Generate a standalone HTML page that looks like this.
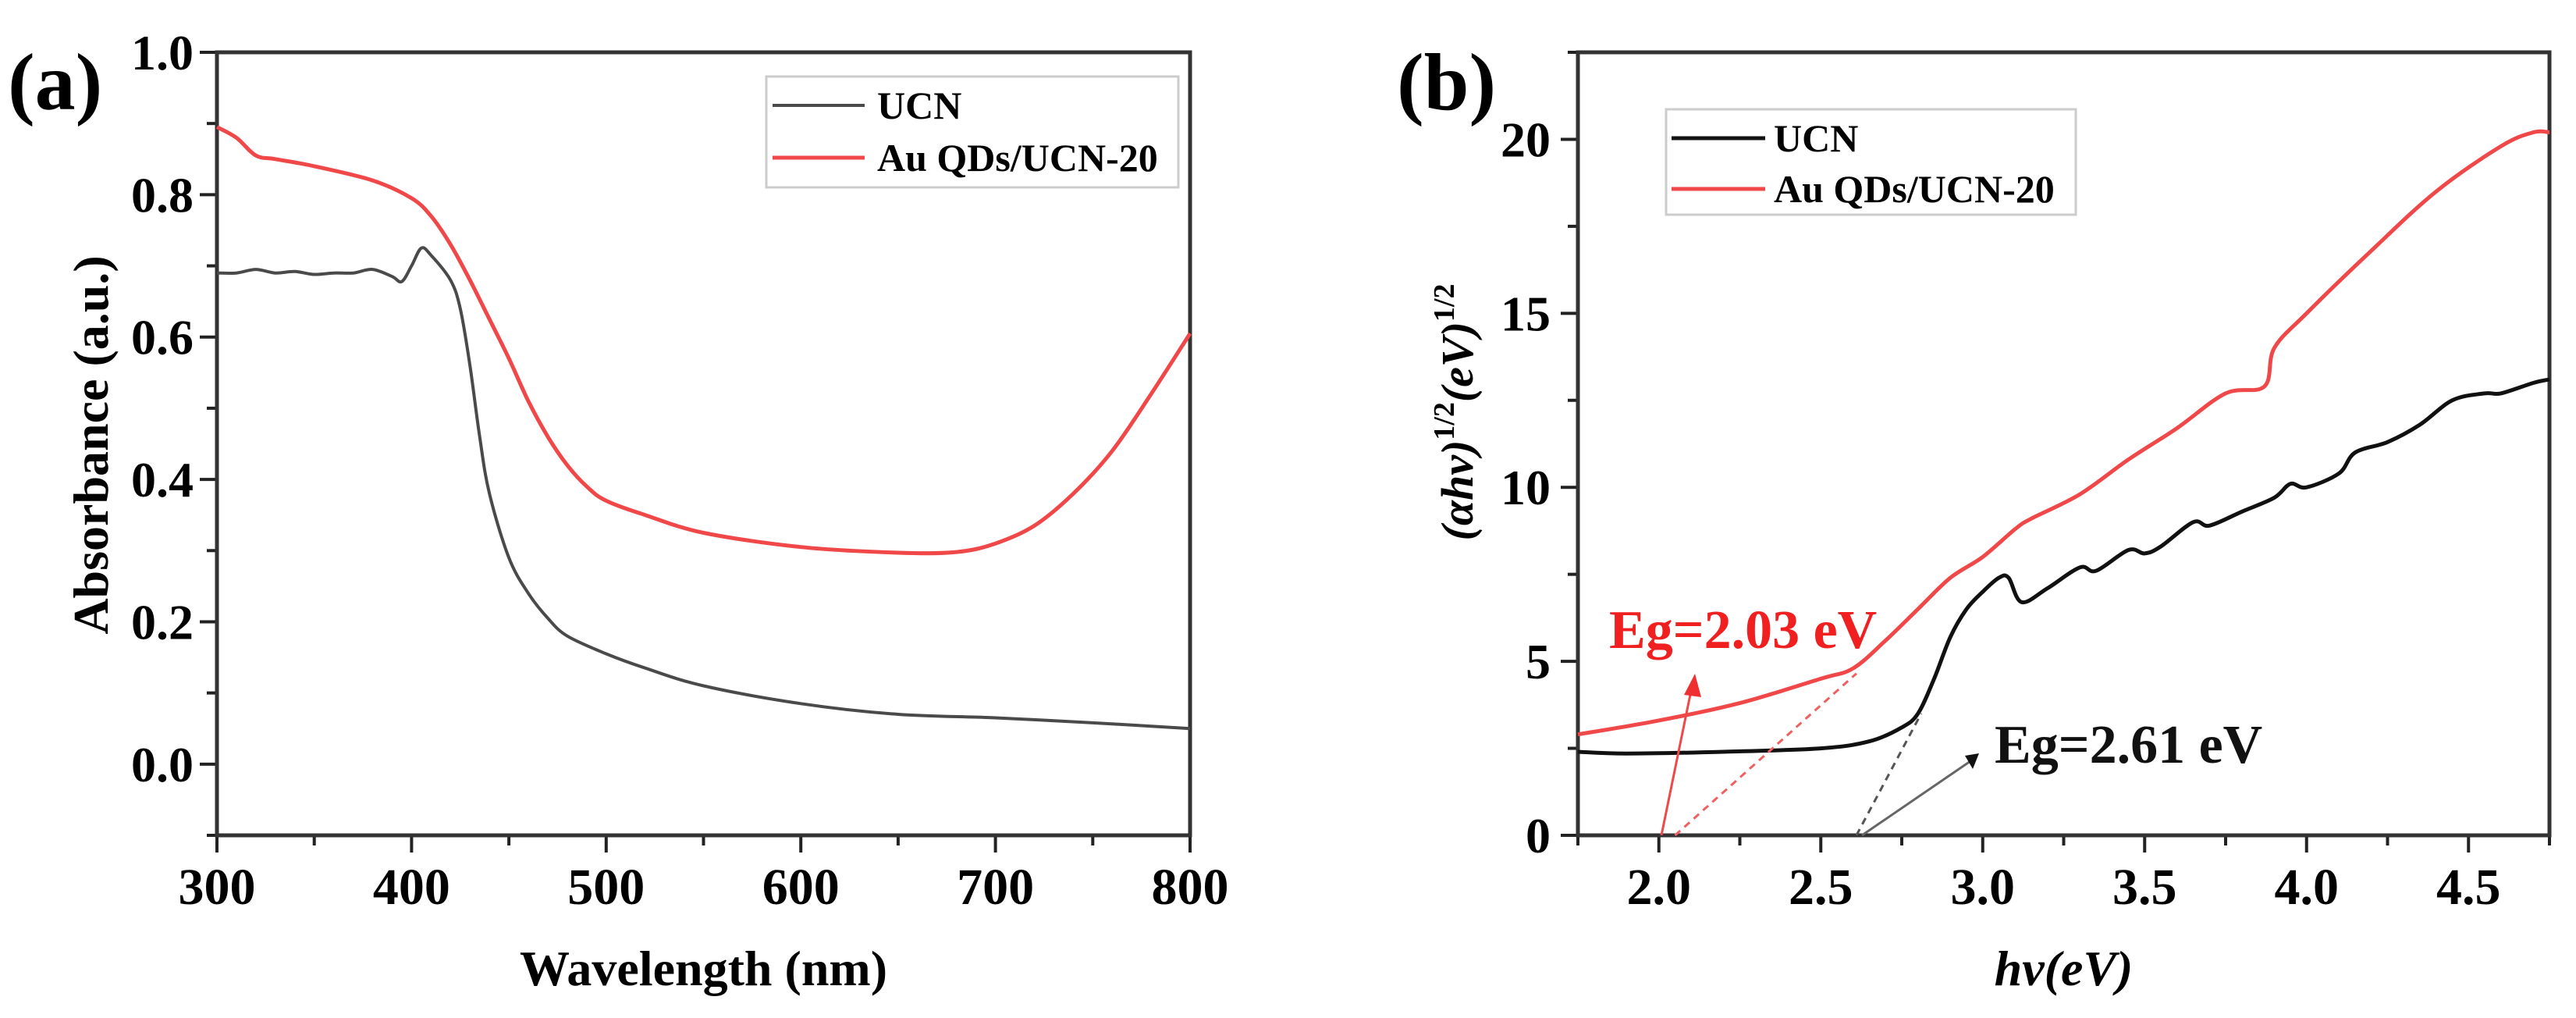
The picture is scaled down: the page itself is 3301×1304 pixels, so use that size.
<!DOCTYPE html>
<html><head><meta charset="utf-8"><style>
html,body{margin:0;padding:0;background:#fff}
svg{display:block}
text{font-family:"Liberation Serif",serif;font-weight:bold}
</style></head><body>
<svg id="fig" width="3301" height="1304" viewBox="0 0 3301 1304" xmlns="http://www.w3.org/2000/svg">
<g id="pa"></g>
<g id="pb"></g>
</svg>
<script>
// Panel (a) data
const aX = [300,310,320,330,340,350,360,370,380,390,395,400,405,410,420,425,430,435,440,450,460,470,480,500,520,550,600,650,700,750,800];
const aUCN = [0.69,0.69,0.695,0.69,0.692,0.688,0.69,0.69,0.695,0.685,0.678,0.70,0.725,0.715,0.68,0.64,0.56,0.46,0.38,0.29,0.24,0.205,0.18,0.155,0.135,0.11,0.085,0.07,0.065,0.058,0.05];
const aAuX = [300,310,320,330,350,380,400,410,420,430,440,450,460,470,480,490,500,520,550,600,650,680,700,720,740,760,780,800];
const aAu = [0.895,0.88,0.855,0.85,0.84,0.82,0.795,0.77,0.73,0.68,0.625,0.57,0.51,0.46,0.42,0.39,0.37,0.35,0.325,0.305,0.297,0.298,0.31,0.335,0.38,0.44,0.52,0.605];
const aXTicks = ['300','400','500','600','700','800'];
const aYTicks = ['0.0','0.2','0.4','0.6','0.8','1.0'];
// Panel (b) data
const bX = [1.75,1.9,2.2,2.5,2.65,2.75,2.8,2.85,2.9,2.95,3.0,3.05,3.08,3.12,3.2,3.3,3.35,3.45,3.5,3.55,3.65,3.7,3.8,3.9,3.95,4.0,4.1,4.15,4.25,4.35,4.45,4.55,4.6,4.7,4.75];
const bUCN = [2.4,2.35,2.4,2.5,2.7,3.1,3.5,4.5,5.7,6.5,7.0,7.4,7.4,6.7,7.1,7.7,7.6,8.2,8.1,8.3,9.0,8.9,9.3,9.7,10.1,10.0,10.4,11.0,11.3,11.8,12.5,12.7,12.7,13.0,13.1];
const bAuX = [1.75,2.0,2.25,2.5,2.6,2.7,2.8,2.9,3.0,3.1,3.15,3.3,3.45,3.6,3.75,3.87,3.9,4.0,4.2,4.4,4.6,4.7,4.75];
const bAu = [2.9,3.3,3.8,4.5,4.8,5.6,6.5,7.4,8.0,8.8,9.1,9.8,10.8,11.7,12.7,12.9,14.0,15.0,16.8,18.5,19.8,20.2,20.2];
const bXTicks = ['2.0','2.5','3.0','3.5','4.0','4.5'];
const bYTicks = ['0','5','10','15','20'];
const egAu = 2.03, egUCN = 2.61;

const NS='http://www.w3.org/2000/svg';
function mk(parent,tag,attrs,txt){const e=document.createElementNS(NS,tag);for(const k in attrs)e.setAttribute(k,attrs[k]);if(txt!==undefined)e.textContent=txt;parent.appendChild(e);return e;}
function smooth(xs,ys,sx,sy){
  const P=xs.map((x,i)=>[sx(x),sy(ys[i])]);
  let d='M'+P[0][0].toFixed(1)+','+P[0][1].toFixed(1);
  for(let i=0;i<P.length-1;i++){
    const p0=P[Math.max(0,i-1)],p1=P[i],p2=P[i+1],p3=P[Math.min(P.length-1,i+2)];
    const c1=[p1[0]+(p2[0]-p0[0])/6,p1[1]+(p2[1]-p0[1])/6];
    const c2=[p2[0]-(p3[0]-p1[0])/6,p2[1]-(p3[1]-p1[1])/6];
    d+=' C'+c1[0].toFixed(1)+','+c1[1].toFixed(1)+' '+c2[0].toFixed(1)+','+c2[1].toFixed(1)+' '+p2[0].toFixed(1)+','+p2[1].toFixed(1);
  }
  return d;
}

// ---------- Panel A ----------
const A=document.getElementById('pa');
const aL=278,aR=1525,aT=67,aB=1070;
const ax=v=>aL+(v-300)/(500)*(aR-aL);
const ay=v=>aB-(v+0.1)/1.1*(aB-aT);
let t;
t=mk(A,'text',{x:10,y:140,'font-size':104});t.textContent='(a)';

for(let v=300;v<=800;v+=50){const maj=v%100===0;const l=mk(A,'line',{x1:ax(v),x2:ax(v),y1:aB,y2:aB+(maj?22:13),stroke:'#222','stroke-width':4});
}
aXTicks.forEach(s=>{const e=mk(A,'text',{x:ax(+s),y:1158,'font-size':66,'text-anchor':'middle'},s);
});
for(let k=-1;k<=10;k++){const v=k/10;const maj=k>=0&&k%2===0;const l=mk(A,'line',{x1:aL,x2:aL-(maj?22:13),y1:ay(v),y2:ay(v),stroke:'#222','stroke-width':4});
}
aYTicks.forEach(s=>{const e=mk(A,'text',{x:248,y:ay(+s)+22,'font-size':64,'text-anchor':'end'},s);
});
let r=mk(A,'rect',{x:aL,y:aT,width:aR-aL,height:aB-aT,fill:'none',stroke:'#333','stroke-width':5});

t=mk(A,'text',{x:(aL+aR)/2,y:1262,'font-size':64,'text-anchor':'middle'},'Wavelength (nm)');

t=mk(A,'text',{x:0,y:0,'font-size':64,'text-anchor':'middle',transform:'translate(138,570) rotate(-90)'},'Absorbance (a.u.)');

let p=mk(A,'path',{d:smooth(aX,aUCN,ax,ay),fill:'none',stroke:'#4a4a4a','stroke-width':4,'stroke-linejoin':'round'});

p=mk(A,'path',{d:smooth(aAuX,aAu,ax,ay),fill:'none',stroke:'#f04848','stroke-width':5,'stroke-linejoin':'round'});

r=mk(A,'rect',{x:982,y:98,width:528,height:142,fill:'#fff',stroke:'#ccc','stroke-width':3});

mk(A,'line',{x1:990,x2:1108,y1:135,y2:135,stroke:'#4a4a4a','stroke-width':4});
t=mk(A,'text',{x:1124,y:152,'font-size':50},'UCN');
mk(A,'line',{x1:990,x2:1108,y1:202,y2:202,stroke:'#f04848','stroke-width':5});
t=mk(A,'text',{x:1124,y:219,'font-size':50},'Au QDs/UCN-20');

// ---------- Panel B ----------
const B=document.getElementById('pb');
const bL=2022,bR=3267,bT=67,bB=1070;
const bx=v=>bL+(v-1.75)/3.0*(bR-bL);
const by=v=>bB-v/22.5*(bB-bT);
t=mk(B,'text',{x:1790,y:140,'font-size':104},'(b)');
for(let k=0;k<=12;k++){const v=1.75+k*0.25;const maj=k%2===1;const l=mk(B,'line',{x1:bx(v),x2:bx(v),y1:bB,y2:bB+(maj?22:13),stroke:'#222','stroke-width':4});
}
bXTicks.forEach(s=>{const e=mk(B,'text',{x:bx(+s),y:1158,'font-size':66,'text-anchor':'middle'},s);
});
for(let k=0;k<=9;k++){const v=k*2.5;const maj=k%2===0;const l=mk(B,'line',{x1:bL,x2:bL-(maj?22:13),y1:by(v),y2:by(v),stroke:'#222','stroke-width':4});
}
bYTicks.forEach(s=>{const e=mk(B,'text',{x:1987,y:by(+s)+22,'font-size':64,'text-anchor':'end'},s);
});
r=mk(B,'rect',{x:bL,y:bT,width:bR-bL,height:bB-bT,fill:'none',stroke:'#333','stroke-width':5});

t=mk(B,'text',{x:(bL+bR)/2,y:1262,'font-size':64,'text-anchor':'middle','font-style':'italic'});
t.innerHTML='hv(eV)';

t=mk(B,'text',{x:0,y:0,'font-size':58,'text-anchor':'middle','font-style':'italic',transform:'translate(1887,528) rotate(-90)'});
t.innerHTML='(αhv)<tspan font-size="38" dy="-24" font-style="normal">1/2</tspan><tspan dy="24">(eV)</tspan><tspan font-size="38" dy="-24" font-style="normal">1/2</tspan>';

p=mk(B,'path',{d:smooth(bX,bUCN,bx,by),fill:'none',stroke:'#111','stroke-width':5,'stroke-linejoin':'round'});

p=mk(B,'path',{d:smooth(bAuX,bAu,bx,by),fill:'none',stroke:'#f04848','stroke-width':5,'stroke-linejoin':'round'});

let d=mk(B,'line',{x1:bx(egAu+0.02),y1:by(0),x2:bx(2.61),y2:by(4.65),stroke:'#f06060','stroke-width':3,'stroke-dasharray':'9,7'});

d=mk(B,'line',{x1:bx(egUCN),y1:by(0),x2:bx(2.81),y2:by(3.5),stroke:'#555','stroke-width':3,'stroke-dasharray':'9,7'});

d=mk(B,'line',{x1:2129,y1:1070,x2:2168,y2:880,stroke:'#f04848','stroke-width':3});

mk(B,'polygon',{points:'2172,863 2158,890 2180,893',fill:'#f03030'});
d=mk(B,'line',{x1:2386,y1:1070,x2:2525,y2:975,stroke:'#666','stroke-width':3});

mk(B,'polygon',{points:'2536,965 2518,968 2528,985',fill:'#111'});
t=mk(B,'text',{x:2062,y:830,'font-size':70,fill:'#f02020'},'Eg=2.03 eV');

t=mk(B,'text',{x:2556,y:977,'font-size':70,fill:'#111'},'Eg=2.61 eV');

r=mk(B,'rect',{x:2135,y:140,width:525,height:135,fill:'#fff',stroke:'#ccc','stroke-width':3});

mk(B,'line',{x1:2142,x2:2262,y1:177,y2:177,stroke:'#111','stroke-width':5});
t=mk(B,'text',{x:2273,y:194,'font-size':50},'UCN');
mk(B,'line',{x1:2142,x2:2262,y1:242,y2:242,stroke:'#f04848','stroke-width':5});
t=mk(B,'text',{x:2273,y:259,'font-size':50},'Au QDs/UCN-20');
</script>
</body></html>
